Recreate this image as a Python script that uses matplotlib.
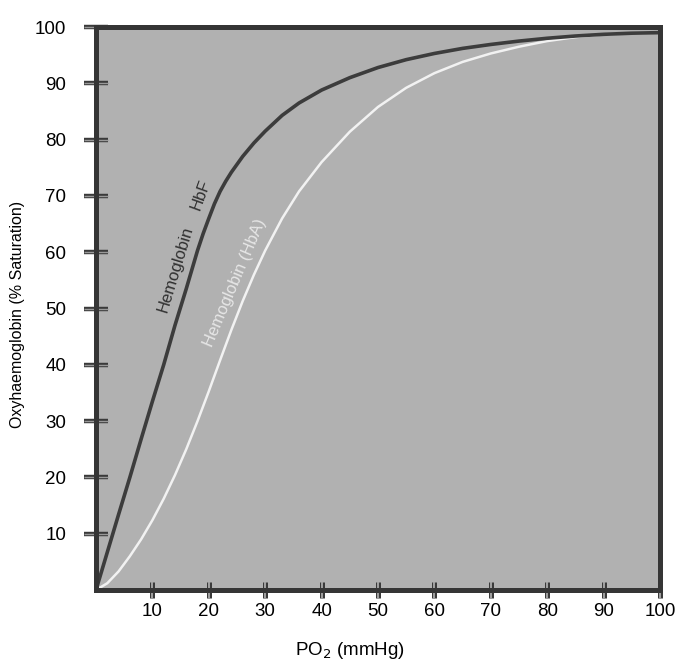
import numpy as np
import matplotlib.pyplot as plt
import matplotlib.patheffects as pe

plt.rcParams['font.family'] = ['Liberation Sans', 'DejaVu Sans']

# oxygen dissociation curves
po2_hbf = [0, 2, 4, 6, 8, 10, 12, 14, 16, 18, 19, 20, 21, 22, 23, 24, 26, 28, 30,
           33, 36, 40, 45, 50, 55, 60, 65, 70, 75, 80, 85, 90, 95, 100]
sat_hbf = [0, 6.7, 13.4, 20, 26.8, 33.5, 40, 47, 53.5, 60.3, 63.3, 66, 68.6, 70.8,
           72.6, 74.2, 77.0, 79.4, 81.5, 84.3, 86.5, 88.8, 91.0, 92.8, 94.2, 95.3,
           96.2, 96.9, 97.5, 98.0, 98.4, 98.7, 98.9, 99.0]

po2_hba = [0, 2, 4, 6, 8, 10, 12, 14, 16, 18, 20, 22, 24, 26, 28, 30, 33, 36,
           40, 45, 50, 55, 60, 65, 70, 75, 80, 85, 90, 95, 100]
sat_hba = [0, 1.2, 3.3, 6.0, 9.0, 12.4, 16.2, 20.4, 25.0, 30.0, 35.3, 40.8, 46.2,
           51.3, 56.0, 60.3, 66.0, 70.8, 76.0, 81.4, 85.8, 89.2, 91.8, 93.8, 95.3,
           96.5, 97.5, 98.2, 98.7, 98.9, 99.0]

ticks = [10, 20, 30, 40, 50, 60, 70, 80, 90, 100]

fig = plt.figure(figsize=(6.95, 6.67), dpi=100)
ax = fig.add_axes([96/695, 1 - 590/667, 564/695, 563/667])
ax.set_facecolor('#b1b1b1')

ax.plot(po2_hba, sat_hba, color='#f2f2f2', lw=1.8, solid_capstyle='round',
        solid_joinstyle='round')
ax.plot(po2_hbf, sat_hbf, color='#3c3c3c', lw=2.6, solid_capstyle='round',
        solid_joinstyle='round')

ax.set_xlim(0, 100)
ax.set_ylim(0, 100)
for s in ax.spines.values():
    s.set_color('#353535')
    s.set_linewidth(3.6)

ax.set_xticks(ticks)
ax.set_yticks(ticks)
ax.tick_params(axis='x', direction='inout', length=11, width=1.3, color='#aaaaaa',
               labelsize=13.5, pad=4)
ax.tick_params(axis='y', direction='inout', length=17, width=1.0, color='#999999',
               labelsize=13.5, pad=13)
for t in ax.xaxis.get_major_ticks():
    t.tick1line.set_path_effects([pe.Stroke(linewidth=3.6, foreground='#3a3a3a'), pe.Normal()])
for t in ax.yaxis.get_major_ticks():
    t.tick1line.set_path_effects([pe.Stroke(linewidth=3.2, foreground='#3a3a3a'), pe.Normal()])

ax.set_xlabel('PO$_2$ (mmHg)', fontsize=13.5)
ax.xaxis.set_label_coords(0.45, -0.088)
ax.set_ylabel('Oxyhaemoglobin (% Saturation)', fontsize=11.5)
ax.yaxis.set_label_coords(-0.126, 0.49)

ax.text(12.6, 49.2, 'Hemoglobin', rotation=73, rotation_mode='anchor',
        ha='left', va='baseline', fontsize=12, color='#303030')
ax.text(18.4, 67.4, 'HbF', rotation=70, rotation_mode='anchor',
        ha='left', va='baseline', fontsize=12, color='#303030')
ax.text(20.6, 43.0, 'Hemoglobin (HbA)', rotation=67, rotation_mode='anchor',
        ha='left', va='baseline', fontsize=12, color='#e6e6e6')

fig.savefig('out.png', dpi=100)
